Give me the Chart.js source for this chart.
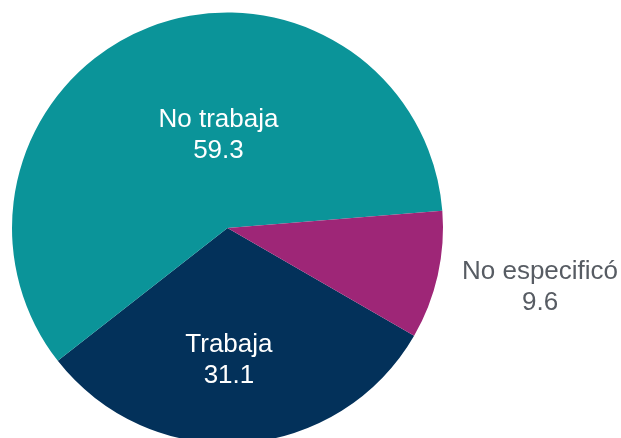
<!DOCTYPE html>
<html>
<head>
<meta charset="utf-8">
<script src="https://cdn.jsdelivr.net/npm/chart.js@4/dist/chart.umd.min.js"></script>
<style>
  html, body { margin: 0; padding: 0; background: #ffffff; }
  #wrap { position: relative; width: 621px; height: 438px; overflow: hidden; }
</style>
</head>
<body>
<div id="wrap"><canvas id="pie-example" width="621" height="438"></canvas></div>
<script>
var categories = ["Trabaja", "No trabaja", "No especificó"];
var values = [31.1, 59.3, 9.6];
var colors = ["#03315a", "#0b9499", "#9e2677"];

// label placement per slice: angle shift (deg) from the slice middle, distance as share of radius
var labelShift = [3.4, 15.7, -2];
var labelDist = [0.613, 0.43, 1.476];
var labelColor = ["#ffffff", "#ffffff", "#575c63"];

var sliceLabels = {
    id: "sliceLabels",
    afterDatasetsDraw: function (chart) {
        var ctx = chart.ctx,
            meta = chart.getDatasetMeta(0);
        ctx.save();
        ctx.font = '26px "Liberation Sans", Arial, sans-serif';
        ctx.textAlign = "center";
        ctx.textBaseline = "middle";
        meta.data.forEach(function (arc, i) {
            var p = arc.getProps(["x", "y", "startAngle", "endAngle", "outerRadius"], true),
                a = (p.startAngle + p.endAngle) / 2 + labelShift[i] * Math.PI / 180,
                r = p.outerRadius * labelDist[i],
                cx = p.x + Math.cos(a) * r,
                cy = p.y + Math.sin(a) * r;
            ctx.fillStyle = labelColor[i];
            ctx.fillText(categories[i], cx, cy - 15.5);
            ctx.fillText(values[i].toFixed(1), cx, cy + 15.5);
        });
        ctx.restore();
    }
};

new Chart(document.getElementById("pie-example").getContext("2d"), {
    type: "pie",
    data: {
        labels: categories,
        datasets: [
            {
                data: values,
                backgroundColor: colors,
                borderWidth: 0,
                clip: false
            }
        ]
    },
    options: {
        responsive: false,
        animation: false,
        events: [],
        rotation: 120,
        radius: 215.5,
        layout: { padding: { left: 0, right: 166, top: 18, bottom: 0 } },
        plugins: { legend: { display: false }, tooltip: { enabled: false } }
    },
    plugins: [sliceLabels]
});
</script>
</body>
</html>
